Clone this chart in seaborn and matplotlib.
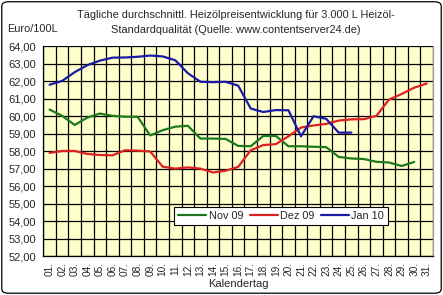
import numpy as np
import pandas as pd
import matplotlib
matplotlib.use("Agg")
import matplotlib.pyplot as plt
from matplotlib.patches import FancyBboxPatch
from matplotlib.ticker import FixedLocator, FuncFormatter
import seaborn as sns

days = [f"{d:02d}." for d in range(1, 32)]
nov09 = [60.38, 60.02, 59.5, 59.92, 60.15, 60.02, 59.97, 59.97, 58.9, 59.2,
         59.4, 59.45, 58.72, 58.72, 58.7, 58.3, 58.28, 58.87, 58.87, 58.28,
         58.28, 58.25, 58.23, 57.67, 57.58, 57.55, 57.39, 57.35, 57.15, 57.38]
dez09 = [57.9, 58.01, 58.01, 57.84, 57.78, 57.76, 58.05, 58.03, 57.98, 57.11,
         57.0, 57.07, 57.0, 56.78, 56.88, 57.1, 58.05, 58.35, 58.4, 58.85,
         59.35, 59.47, 59.56, 59.75, 59.82, 59.83, 60.02, 60.95, 61.27, 61.63, 61.87]
jan10 = [61.8, 62.02, 62.52, 62.92, 63.18, 63.35, 63.36, 63.4, 63.47, 63.42,
         63.2, 62.46, 61.97, 61.95, 61.97, 61.75, 60.44, 60.24, 60.35, 60.34,
         58.85, 60.0, 59.85, 59.06, 59.06]
series_names = ["Nov 09", "Dez 09", "Jan 10"]
y_ticks = list(range(52, 65))

rows = []
for name, vals in zip(series_names, [nov09, dez09, jan10]):
    for i, v in enumerate(vals):
        rows.append({"day": i, "value": v, "Monat": name})
df = pd.DataFrame(rows)

sns.set_style("white")
plt.rcParams["font.family"] = ["Liberation Sans", "DejaVu Sans"]

fig = plt.figure(figsize=(4.43, 2.95), dpi=100)
ax = fig.add_axes([43.3 / 443, 1 - 256 / 295, (433 - 43.3) / 443, (256 - 46.3) / 295])
ax.set_facecolor("#FFFFCC")

palette = {"Nov 09": "#1c7a1c", "Dez 09": "#dd2020", "Jan 10": "#1a1aa6"}
sns.lineplot(data=df, x="day", y="value", hue="Monat", palette=palette,
             linewidth=1.6, ax=ax, legend=False, sort=False)

ax.set_xlim(-0.5, 30.5)
ax.set_ylim(52, 64)
ax.xaxis.set_major_locator(FixedLocator(range(31)))
ax.set_xticklabels(days, rotation=90, fontsize=7.3)
ax.xaxis.set_minor_locator(FixedLocator([k - 0.5 for k in range(32)]))
ax.tick_params(axis="x", which="major", length=0, pad=4)
ax.tick_params(axis="x", which="minor", length=3, width=0.8, color="black", direction="out")
ax.set_yticks(y_ticks)
ax.yaxis.set_major_formatter(FuncFormatter(lambda v, p: f"{v:.2f}".replace(".", ",")))
ax.tick_params(axis="y", length=3, width=0.8, color="black", direction="out", labelsize=8, pad=2)
ax.grid(True, which="minor", axis="x", color="black", linewidth=0.9)
ax.grid(True, which="major", axis="y", color="black", linewidth=0.9)
ax.grid(False, which="major", axis="x")
ax.set_axisbelow(True)
for s in ["left", "bottom"]:
    ax.spines[s].set_color("black")
    ax.spines[s].set_linewidth(0.9)
ax.spines["top"].set_visible(False)
ax.spines["right"].set_color("#999999")
ax.spines["right"].set_linewidth(0.9)
ax.set_xlabel("Kalendertag", fontsize=8, labelpad=2.5)
ax.set_ylabel("")

handles = [plt.Line2D([], [], color=palette[n], linewidth=1.6) for n in series_names]
leg = ax.legend(handles, series_names, loc="center", bbox_to_anchor=(281 / 443, 1 - 216 / 295),
                bbox_transform=fig.transFigure, ncol=3, fontsize=7.8, frameon=True,
                fancybox=False, edgecolor="black", framealpha=1, handlelength=2.6,
                handletextpad=0.2, columnspacing=0.6, borderpad=0.35)
leg.get_frame().set_linewidth(0.8)

fig.text(236 / 443, 1 - 15 / 295, "Tägliche durchschnittl. Heizölpreisentwicklung für 3.000 L Heizöl-",
         ha="center", va="center", fontsize=7.9)
fig.text(236 / 443, 1 - 30 / 295, "Standardqualität (Quelle: www.contentserver24.de)",
         ha="center", va="center", fontsize=7.9)
fig.text(7 / 443, 1 - 29 / 295, "Euro/100L", ha="left", va="center", fontsize=7.9)

border = FancyBboxPatch((0.004, 0.006), 0.992, 0.988, boxstyle="round,pad=0,rounding_size=0.015",
                        transform=fig.transFigure, facecolor="none", edgecolor="black", linewidth=0.9)
fig.patches.append(border)

fig.savefig("out.png", dpi=100, facecolor="white")
